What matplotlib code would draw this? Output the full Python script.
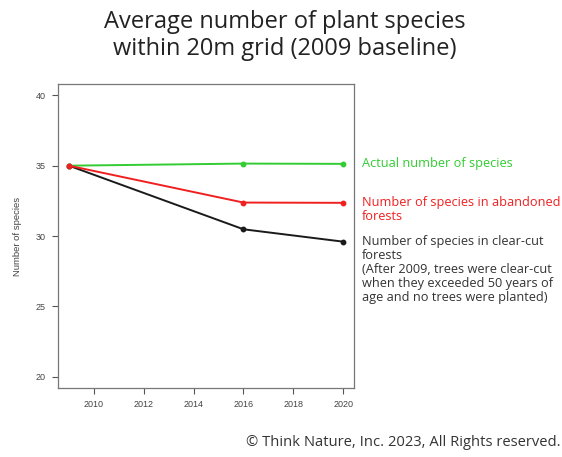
import matplotlib
matplotlib.use("Agg")
import matplotlib.pyplot as plt

years = [2009, 2016, 2020]
actual = [35.0, 35.15, 35.13]
abandoned = [35.0, 32.38, 32.36]
clearcut = [35.0, 30.48, 29.6]

x_ticks = [2010, 2012, 2014, 2016, 2018, 2020]
y_ticks = [20, 25, 30, 35, 40]

title = "Average number of plant species\nwithin 20m grid (2009 baseline)"
label_actual = "Actual number of species"
label_abandoned = "Number of species in abandoned\nforests"
label_clearcut = ("Number of species in clear-cut\nforests\n"
                  "(After 2009, trees were clear-cut\n"
                  "when they exceeded 50 years of\n"
                  "age and no trees were planted)")
copyright_text = "\u00a9 Think Nature, Inc. 2023, All Rights reserved."

GREEN = "#33cc33"
RED = "#f02020"
BLACK = "#1a1a1a"
TEXT_FONT = ["Open Sans", "DejaVu Sans"]

fig = plt.figure(figsize=(5.62, 4.57), dpi=100)
ax = fig.add_axes([0.1032, 0.151, 0.527, 0.665])

ax.plot(years, clearcut, color=BLACK, lw=1.4, marker="o", ms=3.2)
ax.plot(years, actual, color=GREEN, lw=1.4, marker="o", ms=3.2)
ax.plot(years, abandoned, color=RED, lw=1.4, marker="o", ms=3.2)

ax.set_xlim(2008.56, 2020.44)
ax.set_ylim(19.2, 40.8)
ax.set_xticks(x_ticks)
ax.set_yticks(y_ticks)
ax.tick_params(axis="both", labelsize=6.5, colors="#555555", length=4,
               width=0.8, pad=5)
for lbl in ax.get_xticklabels() + ax.get_yticklabels():
    lbl.set_fontfamily("Liberation Sans")
    lbl.set_color("#444444")
for s in ax.spines.values():
    s.set_color("#777777")
    s.set_linewidth(0.9)
ax.set_ylabel("Number of species", fontsize=6.8, color="#444444",
              family="Liberation Sans", labelpad=10)

fig.text(0.507, 0.978, title, ha="center", va="top", fontsize=17,
         family=TEXT_FONT, color="#222222", linespacing=1.18)

tx = 362 / 562
fig.text(tx, 1 - 163 / 457, label_actual, ha="left", va="center",
         fontsize=9.2, family=TEXT_FONT, color=GREEN)
fig.text(tx, 1 - 196 / 457, label_abandoned, ha="left", va="top",
         fontsize=9.2, family=TEXT_FONT, color=RED, linespacing=1.1)
fig.text(tx, 1 - 235 / 457, label_clearcut, ha="left", va="top",
         fontsize=9.2, family=TEXT_FONT, color="#333333", linespacing=1.1)

fig.text(0.997, 1 - 443 / 457, copyright_text, ha="right", va="center",
         fontsize=10.6, family=TEXT_FONT, color="#333333")

fig.savefig("out.png", dpi=100)
